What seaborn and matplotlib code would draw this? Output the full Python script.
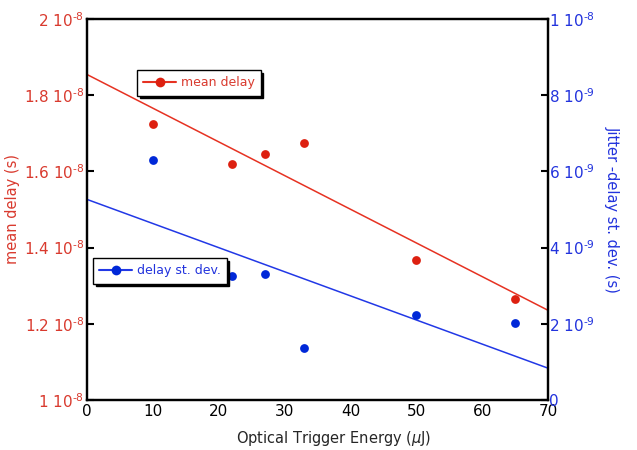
import numpy as np
import pandas as pd
import matplotlib
matplotlib.use("Agg")
import matplotlib.pyplot as plt
from matplotlib.lines import Line2D
import seaborn as sns

energy = [10, 22, 27, 33, 50, 65]
mean_delay = [1.724e-8, 1.619e-8, 1.646e-8, 1.6745e-8, 1.3675e-8, 1.265e-8]
delay_std = [6.30e-9, 3.26e-9, 3.31e-9, 1.36e-9, 2.24e-9, 2.02e-9]

HY = "\u2010"
left_ticks = [1.0e-8, 1.2e-8, 1.4e-8, 1.6e-8, 1.8e-8, 2.0e-8]
left_labels = ["1 10$^{%s8}$" % HY, "1.2 10$^{%s8}$" % HY, "1.4 10$^{%s8}$" % HY,
               "1.6 10$^{%s8}$" % HY, "1.8 10$^{%s8}$" % HY, "2 10$^{%s8}$" % HY]
right_ticks = [0, 2e-9, 4e-9, 6e-9, 8e-9, 1e-8]
right_labels = ["0", "2 10$^{%s9}$" % HY, "4 10$^{%s9}$" % HY, "6 10$^{%s9}$" % HY,
                "8 10$^{%s9}$" % HY, "1 10$^{%s8}$" % HY]
x_ticks = [0, 10, 20, 30, 40, 50, 60, 70]

df = pd.DataFrame({"energy": energy, "mean_delay": mean_delay, "delay_std": delay_std})

sns.set_style("white")
plt.rcParams['font.family'] = ['DejaVu Sans']
plt.rcParams['mathtext.default'] = 'regular'

RED = "#dd2010"
RED_LINE = "#e63222"
BLUE = "#0028d8"
BLUE_LINE = "#2238e6"
RED_TXT = "#d93a2e"
BLUE_TXT = "#2233dd"

fig = plt.figure(figsize=(6.37, 4.5), dpi=100)
ax = fig.add_axes([87/637, 1 - 400/450, (548-87)/637, (400-19)/450])
ax2 = ax.twinx()

ax.set_xlim(0, 70)
ax.set_ylim(1e-8, 2e-8)
ax2.set_xlim(0, 70)
ax2.set_ylim(0, 1e-8)

sns.regplot(data=df, x="energy", y="mean_delay", ax=ax, ci=None, truncate=False,
            scatter_kws=dict(s=40, color=RED, alpha=1, linewidths=0, zorder=3),
            line_kws=dict(color=RED_LINE, lw=1.1))
sns.regplot(data=df, x="energy", y="delay_std", ax=ax2, ci=None, truncate=False,
            scatter_kws=dict(s=40, color=BLUE, alpha=1, linewidths=0, zorder=3),
            line_kws=dict(color=BLUE_LINE, lw=1.1))

ax.set_xlim(0, 70)
ax.set_ylim(1e-8, 2e-8)
ax2.set_ylim(0, 1e-8)

ax.set_xticks(x_ticks)
ax.set_xticklabels([str(t) for t in x_ticks], fontsize=11, color="black")
ax.set_yticks(left_ticks)
ax.set_yticklabels(left_labels, fontsize=11, color=RED_TXT)
ax2.set_yticks(right_ticks)
ax2.set_yticklabels(right_labels, fontsize=11, color=BLUE_TXT)

ax.tick_params(axis="both", direction="in", length=5, width=1.5, pad=3, color="black")
ax.tick_params(axis="y", pad=2)
ax2.tick_params(axis="y", direction="in", length=5, width=1.5, pad=1, color="black")

for a in (ax, ax2):
    for s in a.spines.values():
        s.set_visible(True)
        s.set_linewidth(1.6)
        s.set_color("black")

ax.set_xlabel("Optical Trigger Energy ($\\mathit{\\mu}$J)", fontsize=10.5)
ax.xaxis.set_label_coords((334 - 87) / 461, -0.075)
ax.set_ylabel("mean delay (s)", fontsize=10.5, color=RED_TXT)
ax.yaxis.set_label_coords(-(87 - 20) / 461, 0.5)
ax2.set_ylabel("Jitter -delay st. dev. (s)", fontsize=10.5, color=BLUE_TXT, rotation=270)
ax2.yaxis.set_label_coords(1 + (620 - 548) / 461, 0.5)

h1 = Line2D([0], [0], color=RED_LINE, lw=1.5, marker="o", markersize=7, markerfacecolor=RED, markeredgewidth=0)
h2 = Line2D([0], [0], color=BLUE_LINE, lw=1.5, marker="o", markersize=7, markerfacecolor=BLUE, markeredgewidth=0)

shadow = {"color": "black", "alpha": 1.0, "ox": 1.8, "oy": -1.8}
leg1 = ax2.legend([h1], ["mean delay"], loc="upper left", bbox_to_anchor=((137-87)/461, (400-70)/381),
                  fancybox=False, shadow=shadow, framealpha=1, edgecolor="black", fontsize=9,
                  labelcolor=RED_TXT, handlelength=2.6, borderpad=0.5, handletextpad=0.4, borderaxespad=0)
leg1.get_frame().set_linewidth(1.0)
ax2.add_artist(leg1)
leg2 = ax2.legend([h2], ["delay st. dev."], loc="upper left", bbox_to_anchor=((93-87)/461, (400-258)/381),
                  fancybox=False, shadow=shadow, framealpha=1, edgecolor="black", fontsize=9,
                  labelcolor=BLUE_TXT, handlelength=2.6, borderpad=0.5, handletextpad=0.4, borderaxespad=0)
leg2.get_frame().set_linewidth(1.0)

fig.savefig("out.png", dpi=100)
